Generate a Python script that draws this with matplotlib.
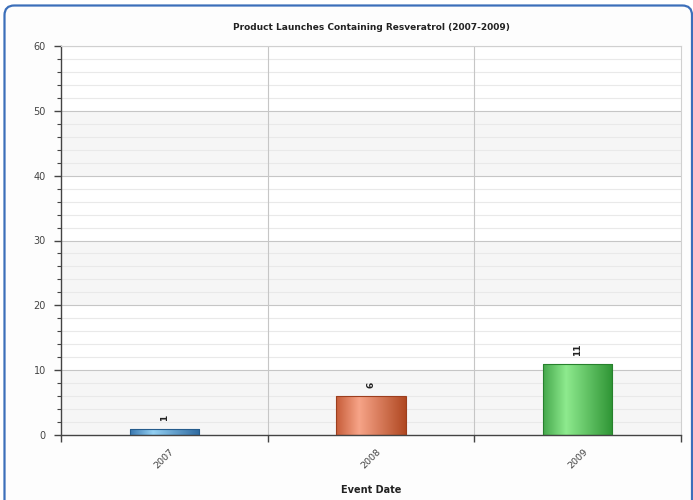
import matplotlib
matplotlib.use("Agg")
import matplotlib.pyplot as plt
import numpy as np
from matplotlib.colors import LinearSegmentedColormap
from matplotlib.patches import FancyBboxPatch, Rectangle
from matplotlib.ticker import MultipleLocator

years = ["2007", "2008", "2009"]
launches = [1, 6, 11]
title = "Product Launches Containing Resveratrol (2007-2009)"
xlabel = "Event Date"

# (left edge, highlight, right edge, outline) for each bar's shaded fill
bar_shades = [
    ("#3a78b0", "#92cff2", "#2f6aa0", "#255c8c"),
    ("#c65c38", "#f7a488", "#b04822", "#9c3e1e"),
    ("#45a84c", "#8eea8e", "#2e9434", "#27812d"),
]

fig = plt.figure(figsize=(6.93, 5.0), dpi=100)
fig.patch.set_facecolor("white")

# rounded panel border
panel = FancyBboxPatch((4.5 / 693, -0.05), 687.5 / 693, 1.039,
                       boxstyle="round,pad=0,rounding_size=0.014",
                       transform=fig.transFigure, facecolor="#fdfdfd",
                       edgecolor="#3c6fba", linewidth=1.6, zorder=-5,
                       mutation_aspect=693 / 500)
fig.patches.append(panel)

ax = fig.add_axes([61 / 693, 1 - 435 / 500, 620 / 693, 389 / 500])
ax.set_zorder(2)
ax.set_xlim(0, len(years))
ax.set_ylim(0, 60)
ax.set_facecolor("white")

# alternating horizontal bands
for lo in range(0, 60, 20):
    ax.axhspan(lo, lo + 10, color="#f6f6f6", lw=0, zorder=0)

# grid
ax.yaxis.set_major_locator(MultipleLocator(10))
ax.yaxis.set_minor_locator(MultipleLocator(2))
for v in np.arange(2, 60, 2):
    if v % 10:
        ax.axhline(v, color="#e9e9e9", lw=0.8, zorder=1)
for v in range(10, 61, 10):
    ax.axhline(v, color="#c6c6c6", lw=0.8, zorder=1)
for x in range(1, len(years)):
    ax.axvline(x, color="#c6c6c6", lw=0.8, zorder=1)

# bars with horizontal gradient fill
bar_w = 0.334
xs = np.arange(len(years)) + 0.5
bars = ax.bar(xs, launches, width=bar_w, color="none", zorder=3)
grad = np.linspace(0, 1, 256).reshape(1, -1)
for rect, val, (c0, c1, c2, ce) in zip(bars, launches, bar_shades):
    cmap = LinearSegmentedColormap.from_list(
        "g", [(0, c0), (0.33, c1), (1, c2)])
    x0 = rect.get_x()
    w = rect.get_width()
    im = ax.imshow(grad, cmap=cmap, extent=(x0, x0 + w, 0, val),
                   aspect="auto", zorder=2)
    im.set_clip_path(rect)
    ax.add_patch(Rectangle((x0, 0), w, val, fill=False, edgecolor=ce,
                           lw=0.8, zorder=3))
    ax.text(x0 + w / 2, val + 1.2, str(val), rotation=90, ha="center",
            va="bottom", fontsize=6.5, fontweight="bold", color="#222222",
            zorder=4)

ax.set_aspect("auto")
ax.set_xlim(0, len(years))
ax.set_ylim(0, 60)

# spines and ticks
for s in ("top", "right"):
    ax.spines[s].set_color("#d0d0d0")
    ax.spines[s].set_linewidth(0.8)
for s in ("left", "bottom"):
    ax.spines[s].set_color("#444444")
    ax.spines[s].set_linewidth(1.0)

ax.set_xticks(np.arange(len(years) + 1))
ax.set_xticklabels([])
ax.set_xticks(xs, minor=True)
ax.set_xticklabels(years, minor=True, rotation=45, ha="center",
                   fontsize=6.8, color="#444444")
ax.tick_params(axis="x", which="major", length=5, width=1, color="#444444",
               direction="out")
ax.tick_params(axis="x", which="minor", length=0, pad=9)
ax.tick_params(axis="y", which="major", length=5, width=1, color="#444444",
               labelsize=7, labelcolor="#444444", pad=6)
ax.tick_params(axis="y", which="minor", length=3, width=0.8, color="#444444")

ax.set_xlabel(xlabel, fontsize=7, fontweight="bold", color="#222222",
              labelpad=10)
fig.text(371 / 693, 1 - 27 / 500, title, ha="center", va="center",
         fontsize=6.5, fontweight="bold", color="#222222")

fig.savefig("out.png", dpi=100)
